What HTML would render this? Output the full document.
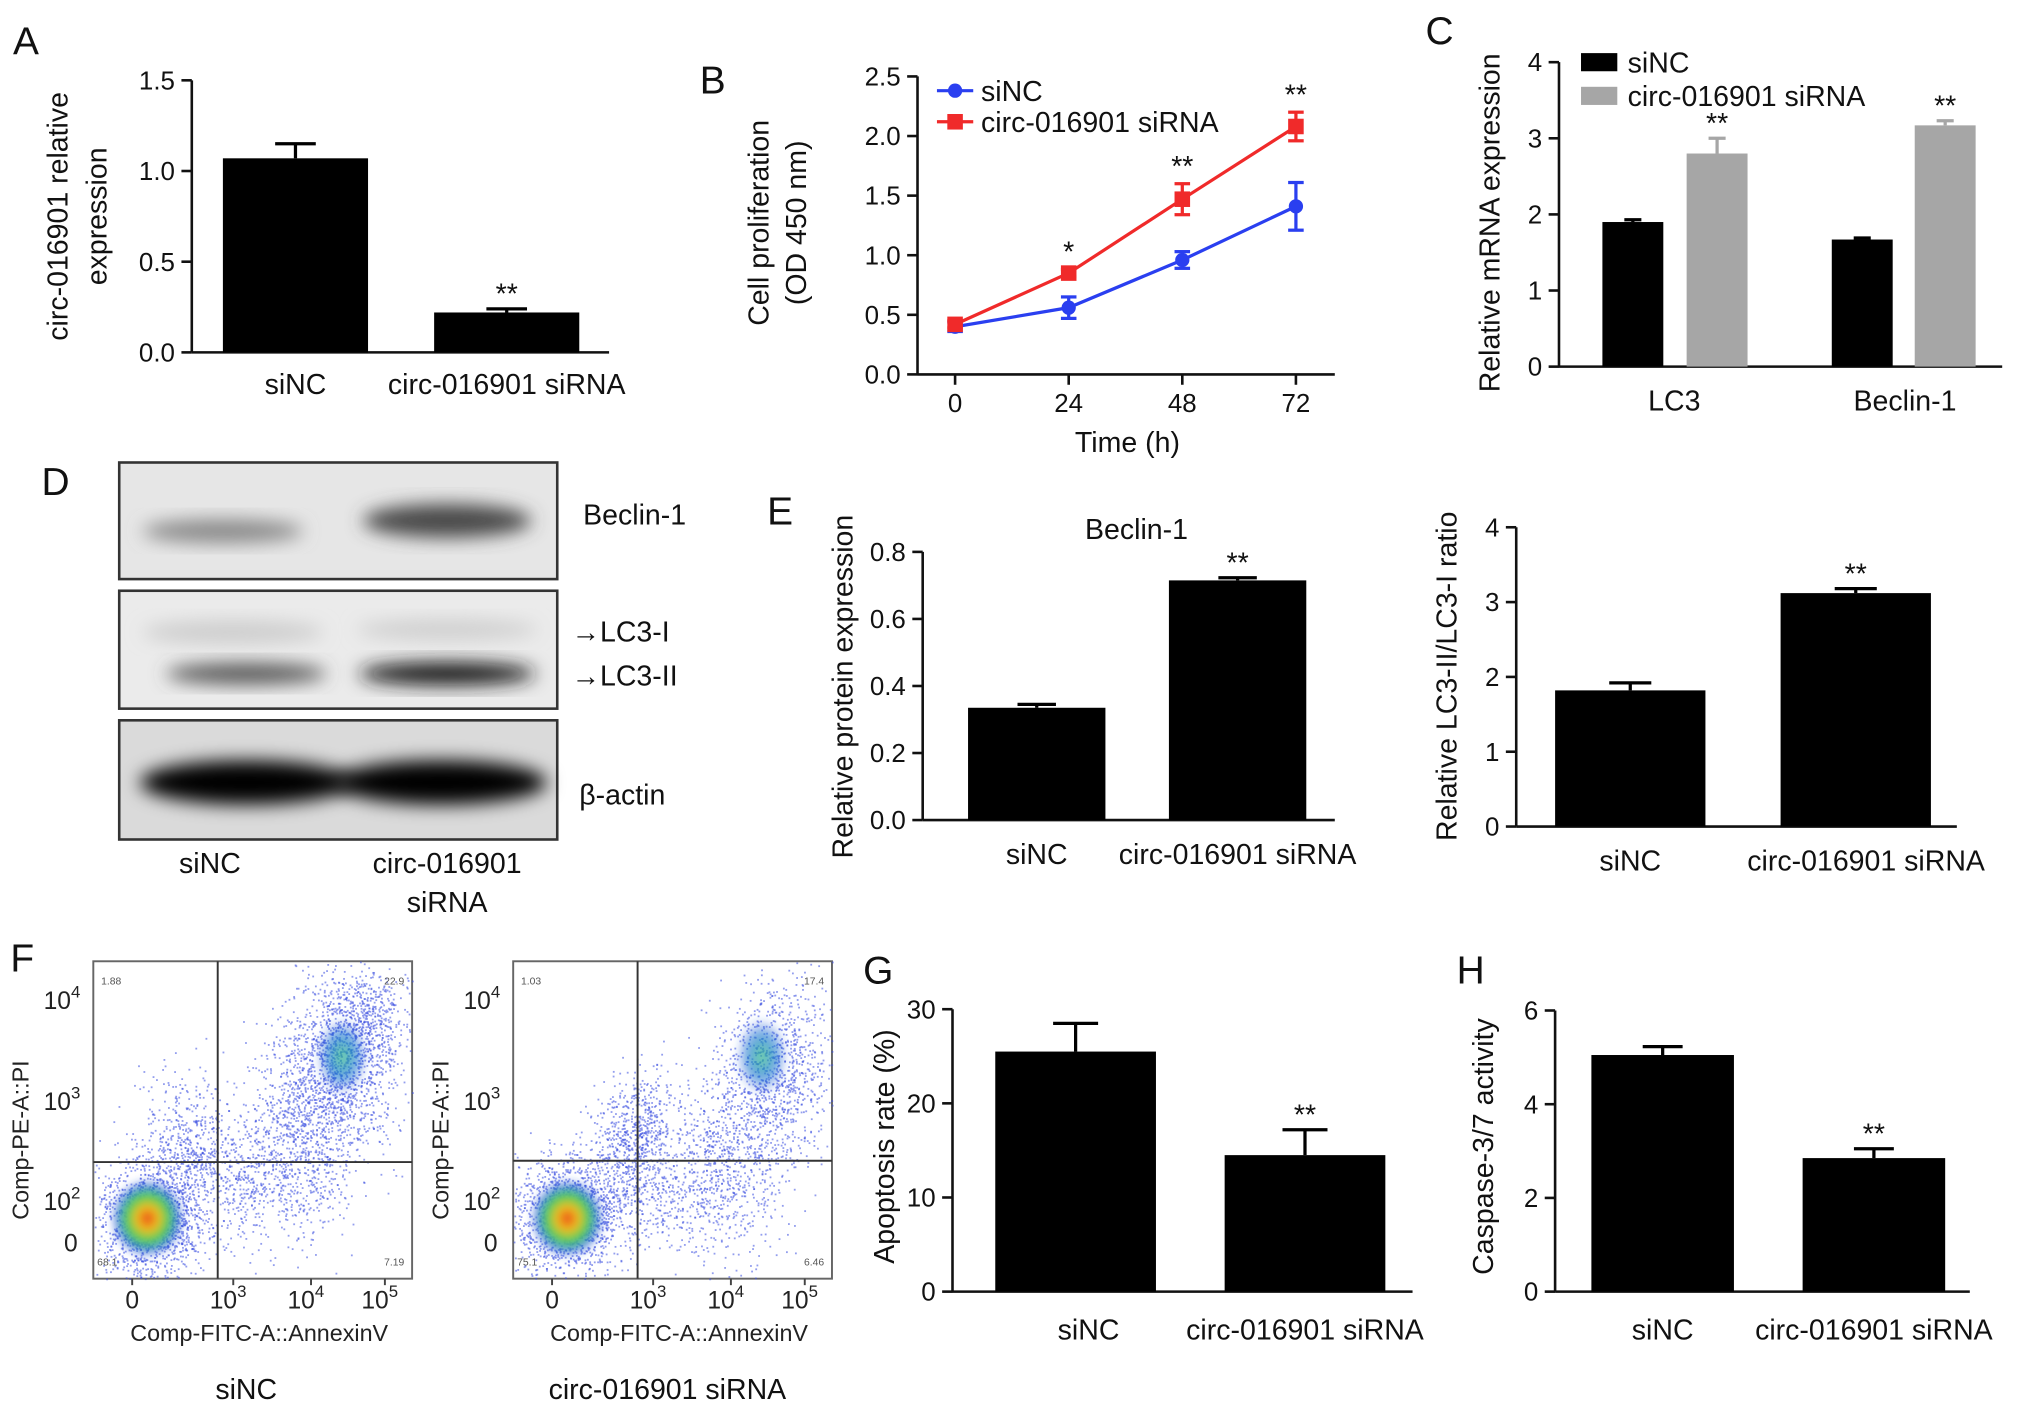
<!DOCTYPE html>
<html><head><meta charset="utf-8">
<style>
html,body{margin:0;padding:0;background:#fff;}
svg{display:block;font-family:"Liberation Sans",Arial,sans-serif;}
</style></head>
<body>
<svg id="fig" width="2032" height="1416" viewBox="0 0 1568 1093" preserveAspectRatio="none" xmlns="http://www.w3.org/2000/svg">
<defs>
<filter id="blur6" x="-50%" y="-50%" width="200%" height="200%"><feGaussianBlur stdDeviation="7"/></filter>
<filter id="blur3" x="-50%" y="-50%" width="200%" height="200%"><feGaussianBlur stdDeviation="3"/></filter>
<radialGradient id="hot" cx="50%" cy="50%" r="50%">
<stop offset="0" stop-color="#e8401a"/><stop offset="0.3" stop-color="#f0c020"/><stop offset="0.6" stop-color="#40d060"/><stop offset="0.85" stop-color="#3060e0" stop-opacity="0.7"/><stop offset="1" stop-color="#3050e0" stop-opacity="0"/></radialGradient>
<radialGradient id="warm" cx="50%" cy="50%" r="50%">
<stop offset="0" stop-color="#30c080"/><stop offset="0.5" stop-color="#2080d0"/><stop offset="1" stop-color="#3050e0" stop-opacity="0"/></radialGradient>
</defs>
<g id="root"></g>
</svg>
<script>
// ---------- data ----------
const aCats=["siNC","circ-016901 siRNA"];
const aVals=[1.07,0.22];
const aErrs=[0.08,0.02];
const aStars=["","**"];

const bTimes=[0,24,48,72];
const bSiNC=[0.40,0.56,0.96,1.41];
const bSiNCErr=[0.04,0.09,0.07,0.20];
const bSiRNA=[0.42,0.85,1.47,2.08];
const bSiRNAErr=[0.03,0.03,0.13,0.12];
const bStars=["","*","**","**"];

const cCats=["LC3","Beclin-1"];
const cSiNC=[1.90,1.67];
const cSiNCErr=[0.03,0.02];
const cSiRNA=[2.80,3.17];
const cSiRNAErr=[0.20,0.06];

const eCats=["siNC","circ-016901 siRNA"];
const e1Vals=[0.335,0.715];
const e1Errs=[0.01,0.008];
const e2Vals=[1.82,3.12];
const e2Errs=[0.10,0.06];

const gVals=[25.5,14.5];
const gErrs=[3.0,2.7];
const hVals=[5.05,2.85];
const hErrs=[0.18,0.20];
const starsSecond=["","**"];

const fQuadL=["1.88","22.9","68.1","7.19"];
const fQuadR=["1.03","17.4","75.1","6.46"];

// ---------- helpers ----------
const NS="http://www.w3.org/2000/svg";
const root=document.getElementById('root');
function mk(tag,attrs,parent,txt){const e=document.createElementNS(NS,tag);for(const k in attrs)e.setAttribute(k,attrs[k]);if(txt!==undefined)e.textContent=txt;(parent||root).appendChild(e);return e;}
function txt(x,y,s,size,parent,anchor,extra){const t=mk('text',Object.assign({x:x,y:y,'font-size':size,'text-anchor':anchor||'middle',fill:'#111'},extra||{}),parent,s);return t;}
function rotText(x,y,s,size,parent){const t=mk('text',{x:0,y:0,'font-size':size,'text-anchor':'middle',fill:'#111',transform:`translate(${x},${y}) rotate(-90)`},parent,s);return t;}

function yAxis(g,ax,y0,y1,vmax,ticks,fmt){
  const sy=v=>y0-(y0-y1)*v/vmax;
  mk('line',{x1:ax,y1:y0,x2:ax,y2:y1,stroke:'#111','stroke-width':2},g);
  ticks.forEach(t=>{const y=sy(t);mk('line',{x1:ax-8,y1:y,x2:ax,y2:y,stroke:'#111','stroke-width':2},g);
    const l=txt(ax-13,y+7,fmt(t),20,g,'end');});
  return sy;
}
function barChart(o){
  const g=mk('g',{});
  
  
  const sy=yAxis(g,o.ax,o.y0,o.y1,o.vmax,o.ticks,o.fmt);
  mk('line',{x1:o.ax,y1:o.y0,x2:o.xend,y2:o.y0,stroke:'#111','stroke-width':2},g);
  o.vals.forEach((v,i)=>{
    const x=o.xs[i],w=o.w;
    const r=mk('rect',{x:x-w/2,y:sy(v),width:w,height:o.y0-sy(v),fill:o.colors?o.colors[i]:'#000'},g);
    
    
    const ye=sy(v+o.errs[i]);
    mk('line',{x1:x,y1:sy(v),x2:x,y2:ye,stroke:o.colors?o.colors[i]:'#000','stroke-width':2.5},g);
    mk('line',{x1:x-w*0.14,y1:ye,x2:x+w*0.14,y2:ye,stroke:o.colors?o.colors[i]:'#000','stroke-width':2.5},g);
    if(o.stars&&o.stars[i]){const s=txt(x,ye-4,o.stars[i],22,g);}
    if(o.labels&&o.labels[i]!==undefined){const l=txt(x+(o.labOff?o.labOff[i]:0),o.labY,o.labels[i],22,g);}
  });
  return g;
}
function letter(x,y,s){const t=txt(x,y,s,30,root,'start');}

// ---------- Panel A ----------
letter(10,42,"A");
barChart({name:'panel-a-chart',ax:148,y0:272,y1:62,vmax:1.5,ticks:[0,0.5,1.0,1.5],fmt:t=>t.toFixed(1),xend:470,
  vals:aVals,errs:aErrs,xs:[228,391],w:112,stars:aStars,labels:aCats,labY:304});
{const t=rotText(52,167,"circ-016901 relative",22);
 const t2=rotText(82,167,"expression",22);}

// ---------- Panel B ----------
letter(540,72,"B");
{
 const g=mk('g',{});
 const sy=yAxis(g,708,289,59,2.5,[0,0.5,1.0,1.5,2.0,2.5],t=>t.toFixed(1));
 const sx=t=>737+t*(1000-737)/72;
 mk('line',{x1:708,y1:289,x2:1030,y2:289,stroke:'#111','stroke-width':2},g);
 bTimes.forEach(t=>{mk('line',{x1:sx(t),y1:289,x2:sx(t),y2:297,stroke:'#111','stroke-width':2},g);const l=txt(sx(t),318,String(t),20,g);});
 function series(vals,errs,col,marker,name){
   const s=mk('g',{},g);
   mk('polyline',{points:vals.map((v,i)=>sx(bTimes[i])+','+sy(v)).join(' '),fill:'none',stroke:col,'stroke-width':2.5},s);
   vals.forEach((v,i)=>{const x=sx(bTimes[i]);
     mk('line',{x1:x,y1:sy(v-errs[i]),x2:x,y2:sy(v+errs[i]),stroke:col,'stroke-width':2.5},s);
     [v-errs[i],v+errs[i]].forEach(e=>mk('line',{x1:x-6,y1:sy(e),x2:x+6,y2:sy(e),stroke:col,'stroke-width':2.5},s));
     let m;
     if(marker==='c') m=mk('circle',{cx:x,cy:sy(v),r:5.5,fill:col},s);
     else m=mk('rect',{x:x-6,y:sy(v)-6,width:12,height:12,fill:col},s);
     
     
   });
 }
 series(bSiNC,bSiNCErr,'#2a3ff0','c','series-sinc');
 series(bSiRNA,bSiRNAErr,'#f02a2a','s','series-sirna');
 bStars.forEach((s,i)=>{if(s){const v=bSiRNA[i]+bSiRNAErr[i];const t=txt(sx(bTimes[i]),sy(v)-6,s,22,g);}});
 const l1=mk('g',{},g);
 mk('line',{x1:723,y1:70,x2:751,y2:70,stroke:'#2a3ff0','stroke-width':2.5},l1);mk('circle',{cx:737,cy:70,r:5.5,fill:'#2a3ff0'},l1);txt(757,78,"siNC",22,l1,'start');
 const l2=mk('g',{},g);
 mk('line',{x1:723,y1:94,x2:751,y2:94,stroke:'#f02a2a','stroke-width':2.5},l2);mk('rect',{x:731,y:88,width:12,height:12,fill:'#f02a2a'},l2);txt(757,102,"circ-016901 siRNA",22,l2,'start');
 const xt=txt(870,349,"Time (h)",22,g);
 const y1=rotText(593,172,"Cell proliferation",22,g);
 const y2=rotText(622,172,"(OD 450 nm)",22,g);
}

// ---------- Panel C ----------
letter(1100,34,"C");
{
 const g=barChart({name:'panel-c-chart',ax:1203,y0:283,y1:48,vmax:4,ticks:[0,1,2,3,4],fmt:t=>String(t),xend:1545,
  vals:[cSiNC[0],cSiRNA[0],cSiNC[1],cSiRNA[1]],errs:[cSiNCErr[0],cSiRNAErr[0],cSiNCErr[1],cSiRNAErr[1]],
  xs:[1260,1325,1437,1501],w:47,colors:['#000','#a6a6a6','#000','#a6a6a6'],stars:["","**","","**"]});
 cCats.forEach((c,i)=>{const t=txt([1292,1470][i],317,c,22,g);});
 const l1=mk('g',{},g);
 mk('rect',{x:1220,y:41,width:28,height:14,fill:'#000'},l1);txt(1256,56,"siNC",22,l1,'start');
 const l2=mk('g',{},g);
 mk('rect',{x:1220,y:67,width:28,height:14,fill:'#a6a6a6'},l2);txt(1256,82,"circ-016901 siRNA",22,l2,'start');
 const yt=rotText(1157,172,"Relative mRNA expression",22,g);
}

// ---------- Panel D (western blot) ----------
letter(32,382,"D");
{
 const g=mk('g',{});
 const boxes=[[357,447],[456,547],[556,648]];
 const bg=['#e6e6e6','#ebebeb','#dadada'];
 boxes.forEach((b,i)=>{const r=mk('rect',{x:92,y:b[0],width:338,height:b[1]-b[0],fill:bg[i],stroke:'#333','stroke-width':2},g);});
 const bands=[[172,410,62,9,'#888'],[345,402,65,13,'#4a4a4a'],[180,488,70,9,'#cdcdcd'],[345,486,70,8,'#cfcfcf'],[190,520,62,8,'#555'],[345,520,68,9,'#1a1a1a'],[190,604,82,17,'#000'],[340,604,82,17,'#000']];
 bands.forEach(b=>mk('ellipse',{cx:b[0],cy:b[1],rx:b[2],ry:b[3],fill:b[4],filter:'url(#blur6)'},g));
 [["Beclin-1",450,405],["\u2192LC3-I",441,495],["\u2192LC3-II",441,529],["\u03b2-actin",447,621]].forEach(a=>{const t=txt(a[1],a[2],a[0],22,g,'start');});
 [["siNC",162,674],["circ-016901",345,674],["siRNA",345,704]].forEach(a=>{const t=txt(a[1],a[2],a[0],22,g);});
}

// ---------- Panel E ----------
letter(592,405,"E");
{
 const g=barChart({name:'panel-e-beclin-chart',ax:712,y0:633,y1:426,vmax:0.8,ticks:[0,0.2,0.4,0.6,0.8],fmt:t=>t.toFixed(1),xend:1030,
  vals:e1Vals,errs:e1Errs,xs:[800,955],w:106,stars:starsSecond,labels:eCats,labY:667,labOff:[0,0]});
 const t=txt(877,416,"Beclin-1",22,g);
 const yt=rotText(658,530,"Relative protein expression",22,g);
 const g2=barChart({name:'panel-e-lc3-ratio-chart',ax:1170,y0:638,y1:407,vmax:4,ticks:[0,1,2,3,4],fmt:t=>String(t),xend:1510,
  vals:e2Vals,errs:e2Errs,xs:[1258,1432],w:116,stars:starsSecond,labels:eCats,labY:672,labOff:[0,8]});
 const yt2=rotText(1124,522,"Relative LC3-II/LC3-I ratio",22,g2);
}

// ---------- Panel F (flow cytometry) ----------
letter(8,750,"F");
const fClusters=[ // [cx,cy,rx,ry,count] relative to plot (0..1)
 [[0.17,0.82,0.08,0.09,1400],[0.30,0.62,0.08,0.12,700],[0.78,0.30,0.09,0.14,1300],[0.66,0.52,0.09,0.16,900],[0.50,0.68,0.10,0.10,400],[0.86,0.20,0.06,0.08,300]],
 [[0.17,0.80,0.08,0.09,1500],[0.34,0.60,0.06,0.11,500],[0.82,0.35,0.09,0.15,1000],[0.66,0.62,0.10,0.15,800],[0.47,0.76,0.12,0.08,300],[0.42,0.50,0.04,0.08,250]]
];
function flowPlot(bx,vx,hy,quad,clusters,label,idx){
 const g=mk('g',{});
 const x0=bx,x1=bx+246,y0=742,y1=987,H=y1-y0;
 mk('rect',{x:x0,y:y0,width:246,height:H,fill:'#fff',stroke:'#666','stroke-width':1.5},g);
 let seed=12345+idx*999;const rnd=()=>{seed=(seed*16807)%2147483647;return seed/2147483647;};
 const gauss=()=>{let u=rnd()||1e-6,v=rnd();return Math.sqrt(-2*Math.log(u))*Math.cos(2*Math.PI*v);};
 clusters.forEach(c=>{for(let i=0;i<c[4];i++){const px=x0+(c[0]+gauss()*c[2])*246,py=y0+(c[1]+gauss()*c[3])*H;
   if(px>x0&&px<x1&&py>y0&&py<y1)mk('rect',{x:px,y:py,width:1.4,height:1.4,fill:'#3a4ee0','fill-opacity':0.55},g);}});
 mk('ellipse',{cx:x0+0.17*246,cy:y0+0.81*H,rx:28,ry:30,fill:'url(#hot)',filter:'url(#blur3)'},g);
 mk('ellipse',{cx:x0+0.78*246,cy:y0+0.30*H,rx:20,ry:30,fill:'url(#warm)','fill-opacity':0.7,filter:'url(#blur3)'},g);
 mk('line',{x1:vx,y1:y0,x2:vx,y2:y1,stroke:'#333','stroke-width':1.5},g);
 mk('line',{x1:x0,y1:hy,x2:x1,y2:hy,stroke:'#333','stroke-width':1.5},g);
 txt(x0+6,y0+18,quad[0],8,g,'start',{fill:'#555'});txt(x1-6,y0+18,quad[1],8,g,'end',{fill:'#555'});
 txt(x0+3,y1-10,quad[2],8,g,'start',{fill:'#555'});txt(x1-6,y1-10,quad[3],8,g,'end',{fill:'#555'});
 [["10",4,772],["10",3,850],["10",2,927]].forEach(a=>{const t=mk('text',{x:x0-10,y:a[2]+7,'font-size':19,'text-anchor':'end',fill:'#222'},g);t.textContent=a[0];mk('tspan',{dy:-9,'font-size':13},t,String(a[1]));});
 txt(x0-12,966,"0",19,g,'end',{fill:'#222'});
 [[102-72,null],[180-72,3],[240-72,4],[297-72,5]].forEach(a=>{const x=x0+a[0];
   mk('line',{x1:x,y1:y1,x2:x,y2:y1+5,stroke:'#444','stroke-width':1.5},g);
   if(a[1]===null)txt(x,1010,"0",19,g,'middle',{fill:'#222'});
   else{const t=mk('text',{x:x-4,y:1010,'font-size':19,'text-anchor':'middle',fill:'#222'},g);t.textContent="10";mk('tspan',{dy:-9,'font-size':13},t,String(a[1]));}});
 const xt=txt(x0+128,1035,"Comp-FITC-A::AnnexinV",18,g,'middle',{fill:'#222'});
 const yt=rotText(x0-50,880,"Comp-PE-A::PI",18,g);yt.setAttribute('fill','#222');
 const lb=txt(x0+(idx?119:118),1080,label,22,g);
}
flowPlot(72,168,897,fQuadL,fClusters[0],"siNC",0);
flowPlot(396,492,896,fQuadR,fClusters[1],"circ-016901 siRNA",1);

// ---------- Panel G ----------
letter(666,759,"G");
{
 const g=barChart({name:'panel-g-chart',ax:735,y0:997,y1:779,vmax:30,ticks:[0,10,20,30],fmt:t=>String(t),xend:1090,
  vals:gVals,errs:gErrs,xs:[830,1007],w:124,stars:starsSecond,labels:["siNC","circ-016901 siRNA"],labY:1034,labOff:[10,0]});
 const yt=rotText(690,885,"Apoptosis rate (%)",22,g);
}
// ---------- Panel H ----------
letter(1124,759,"H");
{
 const g=barChart({name:'panel-h-chart',ax:1200,y0:997,y1:780,vmax:6,ticks:[0,2,4,6],fmt:t=>String(t),xend:1520,
  vals:hVals,errs:hErrs,xs:[1283,1446],w:110,stars:starsSecond,labels:["siNC","circ-016901 siRNA"],labY:1034,labOff:[0,0]});
 const yt=rotText(1152,885,"Caspase-3/7 activity",22,g);
}
</script>
</body></html>
